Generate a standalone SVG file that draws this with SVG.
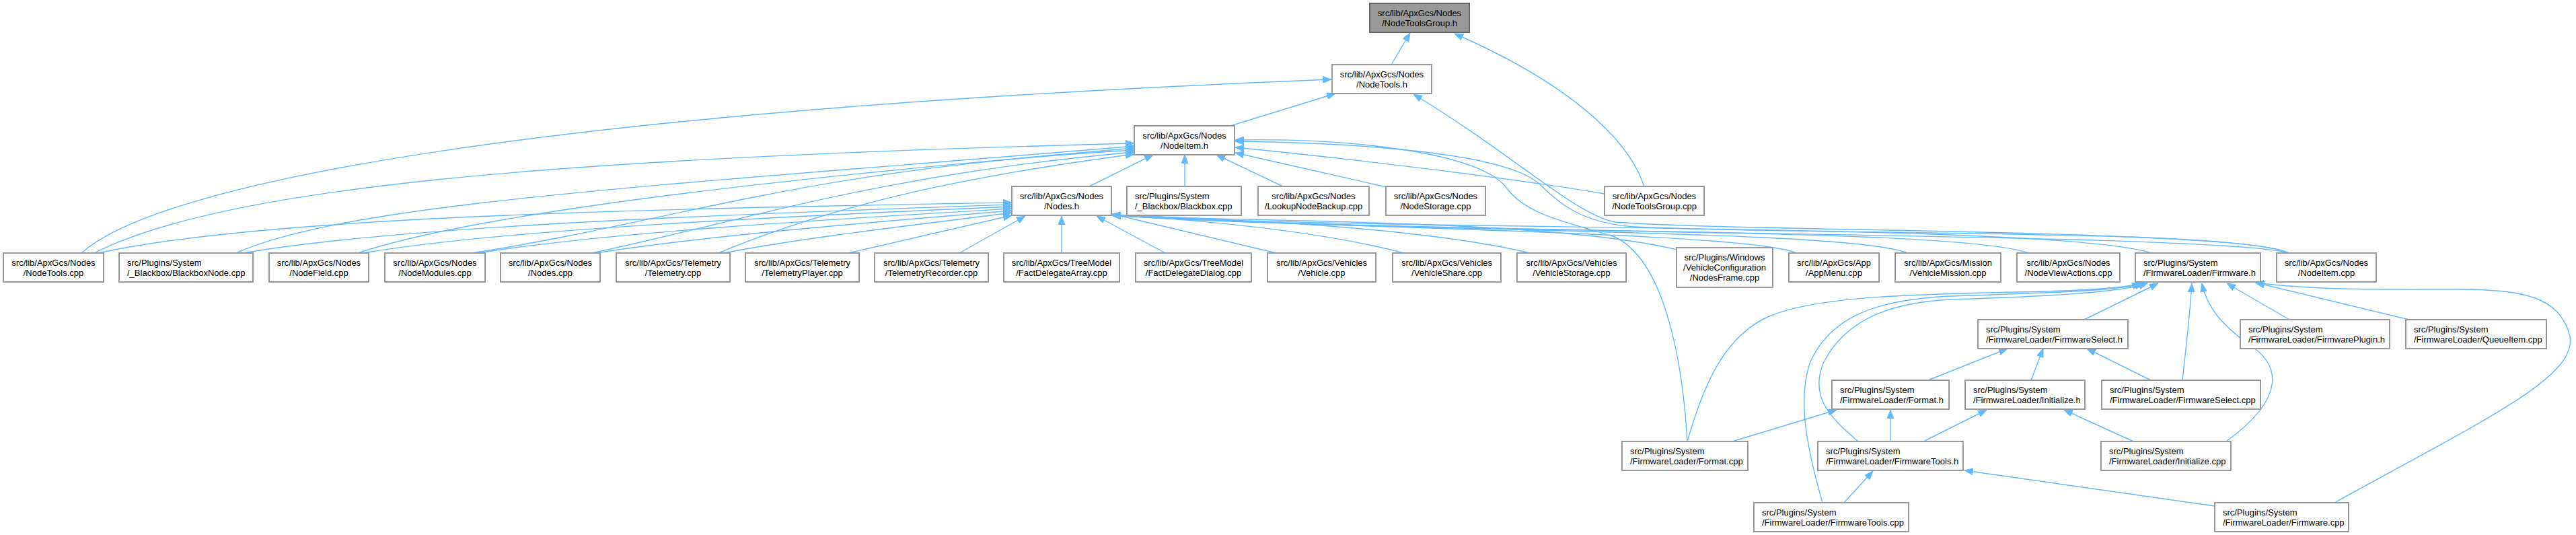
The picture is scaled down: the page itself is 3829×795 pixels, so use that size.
<svg xmlns="http://www.w3.org/2000/svg" width="3829" height="795" viewBox="0 0 3829 795">
<style>
.n rect{fill:#fff;stroke:#999;stroke-width:2}
.root rect{fill:#999;stroke:#666;stroke-width:2}
text{font-family:"Liberation Sans",Arial,sans-serif;font-size:13px;fill:#000}
.c{text-anchor:middle}
#edges path{fill:none;stroke:#63b8ff;stroke-width:1.4;marker-end:url(#ah)}
</style>
<defs>
<marker id="ah" markerUnits="userSpaceOnUse" viewBox="0 0 13 10" refX="13" refY="5" markerWidth="13" markerHeight="10" orient="auto">
<path d="M0,0 L13,5 L0,10 z" fill="#63b8ff" stroke="#63b8ff"/>
</marker>
</defs>
<rect width="3829" height="795" fill="#fff"/>
<g id="edges">
<path d="M2068,96 L2096,49"/>
<path d="M2444,277 C2415,190 2300,110 2162,50"/>
<path d="M1829,187 L1985,139"/>
<path d="M121,376 C240,270 800,165 1979,118"/>
<path d="M3402,376 C3330,340 2600,345 2400,330 C2340,318 2250,230 2101,140"/>
<path d="M1619,277 L1714,230"/>
<path d="M1761,277 L1761,230"/>
<path d="M1907,277 L1808,230"/>
<path d="M2061,278 L1836,227"/>
<path d="M2385,288 C2250,265 2000,235 1836,219"/>
<path d="M2508,656 C2500,520 2470,385 2400,352 C2330,330 2270,320 2240,280 C2200,225 2000,205 1836,208"/>
<path d="M3402,376 C3330,340 2700,350 2430,337 C2350,332 2315,300 2290,275 C2240,225 2000,212 1836,210"/>
<path d="M140,376 C330,280 800,235 1686,213"/>
<path d="M351,376 C520,300 1000,275 1686,217"/>
<path d="M532,376 C700,320 1100,270 1686,220"/>
<path d="M702,376 C1000,330 1200,250 1686,223"/>
<path d="M880,376 C1100,330 1300,260 1686,226"/>
<path d="M1068,376 C1250,300 1450,260 1686,229"/>
<path d="M147,376 C400,320 1000,310 1504,301"/>
<path d="M362,376 C600,335 1100,318 1504,304"/>
<path d="M540,376 C750,340 1200,320 1504,307"/>
<path d="M712,376 C900,345 1250,325 1504,310"/>
<path d="M886,376 C1050,350 1300,330 1504,313"/>
<path d="M1076,376 C1200,352 1380,332 1504,316"/>
<path d="M1261,376 L1504,320"/>
<path d="M1426,376 L1524,321"/>
<path d="M1578,376 L1578,321"/>
<path d="M1732,376 L1630,321"/>
<path d="M1897,376 L1653,318"/>
<path d="M2087,376 C1950,340 1750,325 1653,319"/>
<path d="M2274,376 C2100,335 1800,325 1653,319"/>
<path d="M2492,371 C2300,325 1850,330 1653,320"/>
<path d="M2670,376 C2600,345 2000,340 1653,320"/>
<path d="M2835,376 C2750,340 2050,345 1653,320"/>
<path d="M3015,376 C2900,335 2100,350 1653,320"/>
<path d="M3198,376 C3050,330 2100,345 1653,320"/>
<path d="M3402,376 C3300,345 2150,350 1653,320"/>
<path d="M3098,475 L3208,421"/>
<path d="M3403,475 L3310,421"/>
<path d="M3581,475 L3353,420"/>
<path d="M3244,565 C3250,510 3255,470 3258,421"/>
<path d="M3309,656 C3400,590 3390,540 3340,510 C3300,480 3280,455 3273,421"/>
<path d="M3470,747 C3700,620 3830,560 3820,500 C3805,440 3750,430 3650,430 C3550,430 3450,432 3352,420"/>
<path d="M2762,656 C2720,620 2690,590 2710,540 C2740,480 2800,450 2900,445 C3050,440 3150,435 3192,421"/>
<path d="M2709,747 C2690,680 2670,600 2690,540 C2720,470 2790,445 2900,440 C3050,435 3150,432 3186,421"/>
<path d="M2508,656 C2530,580 2560,500 2630,470 C2700,440 2850,437 3000,434 C3100,432 3160,428 3182,421"/>
<path d="M2866,565 L2984,518"/>
<path d="M3019,565 L3037,518"/>
<path d="M3197,565 L3102,518"/>
<path d="M2810,656 L2810,609"/>
<path d="M2575,656 L2730,609"/>
<path d="M2859,656 L2953,609"/>
<path d="M3171,656 L3068,609"/>
<path d="M2741,747 L2784,700"/>
<path d="M3292,752 L2920,699"/>
</g>
<g id="n_ntg_h" class="root"><rect x="2036" y="5" width="148" height="43"/><text class="c" x="2110" y="24">src/lib/ApxGcs/Nodes</text><text class="c" x="2110" y="39">/NodeToolsGroup.h</text></g>
<g id="n_nt_h" class="n"><rect x="1980" y="96" width="148" height="43"/><text class="c" x="2054" y="115">src/lib/ApxGcs/Nodes</text><text class="c" x="2054" y="130">/NodeTools.h</text></g>
<g id="n_ni_h" class="n"><rect x="1686" y="187" width="149" height="43"/><text class="c" x="1760.5" y="206">src/lib/ApxGcs/Nodes</text><text class="c" x="1760.5" y="221">/NodeItem.h</text></g>
<g id="n_nodes_h" class="n"><rect x="1504" y="277" width="148" height="43"/><text class="c" x="1578" y="296">src/lib/ApxGcs/Nodes</text><text class="c" x="1578" y="311">/Nodes.h</text></g>
<g id="n_blackbox_cpp" class="n"><rect x="1675" y="277" width="170" height="43"/><text x="1687" y="296">src/Plugins/System</text><text x="1687" y="311">/_Blackbox/Blackbox.cpp</text></g>
<g id="n_lookup" class="n"><rect x="1870" y="277" width="165" height="43"/><text class="c" x="1952.5" y="296">src/lib/ApxGcs/Nodes</text><text class="c" x="1952.5" y="311">/LookupNodeBackup.cpp</text></g>
<g id="n_nodestorage" class="n"><rect x="2060" y="277" width="148" height="43"/><text class="c" x="2134" y="296">src/lib/ApxGcs/Nodes</text><text class="c" x="2134" y="311">/NodeStorage.cpp</text></g>
<g id="n_ntg_cpp" class="n"><rect x="2385" y="277" width="148" height="43"/><text class="c" x="2459" y="296">src/lib/ApxGcs/Nodes</text><text class="c" x="2459" y="311">/NodeToolsGroup.cpp</text></g>
<g id="n_nt_cpp" class="n"><rect x="5" y="376" width="149" height="43"/><text class="c" x="79.5" y="395">src/lib/ApxGcs/Nodes</text><text class="c" x="79.5" y="410">/NodeTools.cpp</text></g>
<g id="n_bbnode" class="n"><rect x="177" y="376" width="199" height="43"/><text x="189" y="395">src/Plugins/System</text><text x="189" y="410">/_Blackbox/BlackboxNode.cpp</text></g>
<g id="n_nodefield" class="n"><rect x="400" y="376" width="148" height="43"/><text class="c" x="474" y="395">src/lib/ApxGcs/Nodes</text><text class="c" x="474" y="410">/NodeField.cpp</text></g>
<g id="n_nodemodules" class="n"><rect x="572" y="376" width="149" height="43"/><text class="c" x="646.5" y="395">src/lib/ApxGcs/Nodes</text><text class="c" x="646.5" y="410">/NodeModules.cpp</text></g>
<g id="n_nodes_cpp" class="n"><rect x="744" y="376" width="148" height="43"/><text class="c" x="818" y="395">src/lib/ApxGcs/Nodes</text><text class="c" x="818" y="410">/Nodes.cpp</text></g>
<g id="n_telemetry" class="n"><rect x="916" y="376" width="169" height="43"/><text class="c" x="1000.5" y="395">src/lib/ApxGcs/Telemetry</text><text class="c" x="1000.5" y="410">/Telemetry.cpp</text></g>
<g id="n_tplayer" class="n"><rect x="1108" y="376" width="169" height="43"/><text class="c" x="1192.5" y="395">src/lib/ApxGcs/Telemetry</text><text class="c" x="1192.5" y="410">/TelemetryPlayer.cpp</text></g>
<g id="n_trecorder" class="n"><rect x="1300" y="376" width="169" height="43"/><text class="c" x="1384.5" y="395">src/lib/ApxGcs/Telemetry</text><text class="c" x="1384.5" y="410">/TelemetryRecorder.cpp</text></g>
<g id="n_fdarray" class="n"><rect x="1492" y="376" width="172" height="43"/><text class="c" x="1578" y="395">src/lib/ApxGcs/TreeModel</text><text class="c" x="1578" y="410">/FactDelegateArray.cpp</text></g>
<g id="n_fddialog" class="n"><rect x="1688" y="376" width="172" height="43"/><text class="c" x="1774" y="395">src/lib/ApxGcs/TreeModel</text><text class="c" x="1774" y="410">/FactDelegateDialog.cpp</text></g>
<g id="n_vehicle" class="n"><rect x="1884" y="376" width="161" height="43"/><text class="c" x="1964.5" y="395">src/lib/ApxGcs/Vehicles</text><text class="c" x="1964.5" y="410">/Vehicle.cpp</text></g>
<g id="n_vshare" class="n"><rect x="2070" y="376" width="161" height="43"/><text class="c" x="2150.5" y="395">src/lib/ApxGcs/Vehicles</text><text class="c" x="2150.5" y="410">/VehicleShare.cpp</text></g>
<g id="n_vstorage" class="n"><rect x="2255" y="376" width="162" height="43"/><text class="c" x="2336" y="395">src/lib/ApxGcs/Vehicles</text><text class="c" x="2336" y="410">/VehicleStorage.cpp</text></g>
<g id="n_nodesframe" class="n"><rect x="2492" y="368" width="143" height="59"/><text class="c" x="2563.5" y="387">src/Plugins/Windows</text><text class="c" x="2563.5" y="402">/VehicleConfiguration</text><text class="c" x="2563.5" y="417">/NodesFrame.cpp</text></g>
<g id="n_appmenu" class="n"><rect x="2659" y="376" width="134" height="43"/><text class="c" x="2726" y="395">src/lib/ApxGcs/App</text><text class="c" x="2726" y="410">/AppMenu.cpp</text></g>
<g id="n_vmission" class="n"><rect x="2817" y="376" width="157" height="43"/><text class="c" x="2895.5" y="395">src/lib/ApxGcs/Mission</text><text class="c" x="2895.5" y="410">/VehicleMission.cpp</text></g>
<g id="n_nva" class="n"><rect x="2998" y="376" width="153" height="43"/><text class="c" x="3074.5" y="395">src/lib/ApxGcs/Nodes</text><text class="c" x="3074.5" y="410">/NodeViewActions.cpp</text></g>
<g id="n_fw_h" class="n"><rect x="3174" y="376" width="186" height="43"/><text x="3186" y="395">src/Plugins/System</text><text x="3186" y="410">/FirmwareLoader/Firmware.h</text></g>
<g id="n_ni_cpp" class="n"><rect x="3384" y="376" width="148" height="43"/><text class="c" x="3458" y="395">src/lib/ApxGcs/Nodes</text><text class="c" x="3458" y="410">/NodeItem.cpp</text></g>
<g id="n_fwsel_h" class="n"><rect x="2940" y="475" width="223" height="43"/><text x="2952" y="494">src/Plugins/System</text><text x="2952" y="509">/FirmwareLoader/FirmwareSelect.h</text></g>
<g id="n_fwplugin" class="n"><rect x="3330" y="475" width="222" height="43"/><text x="3342" y="494">src/Plugins/System</text><text x="3342" y="509">/FirmwareLoader/FirmwarePlugin.h</text></g>
<g id="n_queueitem" class="n"><rect x="3576" y="475" width="209" height="43"/><text x="3588" y="494">src/Plugins/System</text><text x="3588" y="509">/FirmwareLoader/QueueItem.cpp</text></g>
<g id="n_format_h" class="n"><rect x="2723" y="565" width="174" height="43"/><text x="2735" y="584">src/Plugins/System</text><text x="2735" y="599">/FirmwareLoader/Format.h</text></g>
<g id="n_init_h" class="n"><rect x="2921" y="565" width="178" height="43"/><text x="2933" y="584">src/Plugins/System</text><text x="2933" y="599">/FirmwareLoader/Initialize.h</text></g>
<g id="n_fwsel_cpp" class="n"><rect x="3124" y="565" width="236" height="43"/><text x="3136" y="584">src/Plugins/System</text><text x="3136" y="599">/FirmwareLoader/FirmwareSelect.cpp</text></g>
<g id="n_format_cpp" class="n"><rect x="2411" y="656" width="187" height="43"/><text x="2423" y="675">src/Plugins/System</text><text x="2423" y="690">/FirmwareLoader/Format.cpp</text></g>
<g id="n_fwtools_h" class="n"><rect x="2702" y="656" width="216" height="43"/><text x="2714" y="675">src/Plugins/System</text><text x="2714" y="690">/FirmwareLoader/FirmwareTools.h</text></g>
<g id="n_init_cpp" class="n"><rect x="3123" y="656" width="193" height="43"/><text x="3135" y="675">src/Plugins/System</text><text x="3135" y="690">/FirmwareLoader/Initialize.cpp</text></g>
<g id="n_fwtools_cpp" class="n"><rect x="2607" y="747" width="230" height="43"/><text x="2619" y="766">src/Plugins/System</text><text x="2619" y="781">/FirmwareLoader/FirmwareTools.cpp</text></g>
<g id="n_fw_cpp" class="n"><rect x="3292" y="747" width="199" height="43"/><text x="3304" y="766">src/Plugins/System</text><text x="3304" y="781">/FirmwareLoader/Firmware.cpp</text></g>
</svg>
